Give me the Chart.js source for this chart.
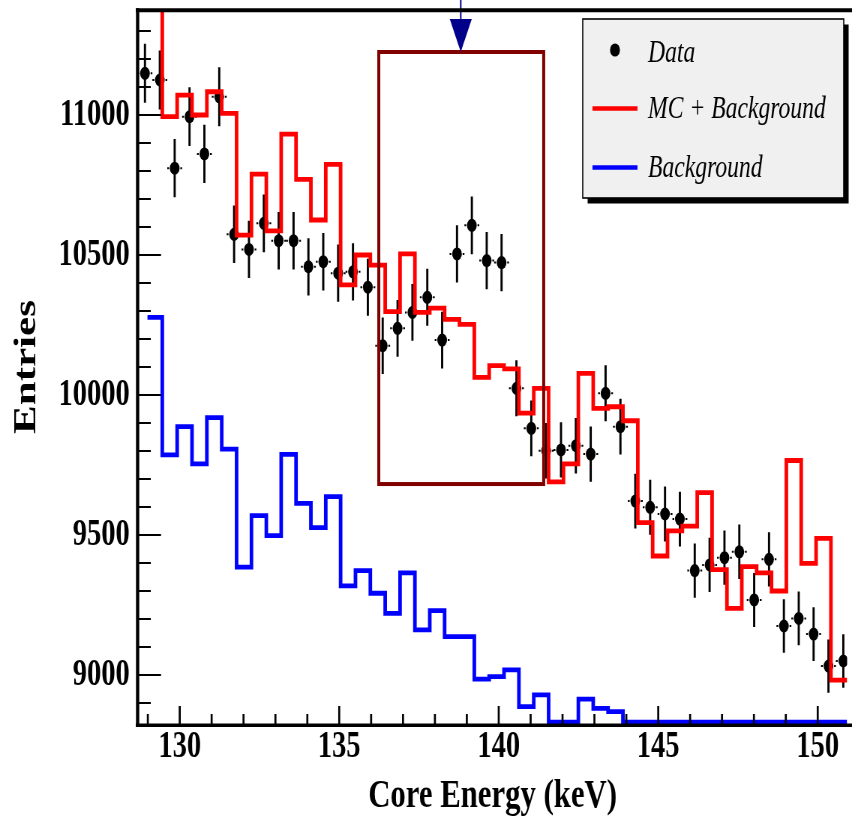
<!DOCTYPE html>
<html><head><meta charset="utf-8">
<script src="https://cdn.jsdelivr.net/npm/chart.js@4.4.1/dist/chart.umd.min.js"></script>
<style>
html,body{margin:0;padding:0;background:#fff;overflow:hidden;width:852px;height:818px}
</style></head>
<body><canvas id="c" width="1136" height="818" style="display:block;width:852px;height:818px"></canvas>
<script>
// ---- data ----
const binStart = 128.988;   // keV, lower edge of first histogram bin
const binWidth = 0.4658;    // keV
const dataStart = 128.91;   // keV, position of first data point

const dataCounts = [11149, 11125, 10810, 10994, 10861, 11065, 10574, 10520, 10613, 10551,
  10551, 10458, 10476, 10435, 10440, 10385, 10176, 10238, 10295, 10349,
  10196, 10504, 10606, 10480, 10473, 10024, 9881, 9801, 9804, 9819,
  9789, 10006, 9887, 9621, 9599, 9575, 9557, 9373, 9393, 9419,
  9440, 9268, 9413, 9175, 9202, 9146, 9032, 9050];

const mcPlusBackground = [11500, 10994, 11071, 11000, 11083, 11006, 10571, 10789, 10586, 10932,
  10770, 10625, 10824, 10393, 10500, 10464, 10298, 10504, 10295, 10310,
  10270, 10252, 10063, 10105, 10093, 9935, 10024, 9690, 9754, 10077,
  9952, 9958, 9908, 9544, 9425, 9515, 9532, 9651, 9376, 9238,
  9387, 9365, 9300, 9766, 9399, 9488, 8982];

const background = [10277, 9786, 9887, 9754, 9919, 9807, 9385, 9569, 9498, 9788,
  9613, 9526, 9637, 9318, 9373, 9292, 9220, 9365, 9161, 9230,
  9137, 9137, 8985, 8994, 9018, 8887, 8929, 8832, 8832, 8914,
  8881, 8869, 8832, 8832, 8832, 8832, 8832, 8832, 8832, 8832,
  8832, 8832, 8832, 8832, 8832, 8832, 8832];

const xTickValues = [130, 135, 140, 145, 150];
const yTickValues = [9000, 9500, 10000, 10500, 11000];
const xMinorStep = 1;
const yMinorStep = 100;
const xRange = [128.692, 150.922];
const yRange = [8825, 11375];

const windowEnergy = [136.24, 141.41];
const windowCounts = [9682, 11225];
const arrowEnergy = 138.81;
const arrowTopCounts = 11343;

const legendLabels = ['Data', 'MC + Background', 'Background'];
const xTitle = 'Core Energy (keV)';
const yTitle = 'Entries';

// ---- build ----
function histPoints(vals) {
  const pts = vals.map((v, j) => ({x: binStart + j * binWidth, y: v}));
  pts.push({x: Math.max(binStart + vals.length * binWidth, xRange[1]), y: vals[vals.length - 1]});
  return pts;
}
const dataPoints = dataCounts.map((v, k) => ({x: dataStart + k * binWidth, y: v}));

const SERIF = '"Liberation Serif", "Times New Roman", serif';

const errorBars = {
  id: 'errorBars',
  beforeDatasetsDraw(chart) {
    const {ctx, chartArea: a, scales: {x, y}} = chart;
    ctx.save();
    ctx.beginPath(); ctx.rect(a.left, a.top, a.right - a.left, a.bottom - a.top); ctx.clip();
    ctx.strokeStyle = '#000';
    dataCounts.forEach((v, k) => {
      const e = dataStart + k * binWidth;
      const px = x.getPixelForValue(e), py = y.getPixelForValue(v);
      const err = Math.sqrt(v);
      ctx.lineWidth = 2.9;
      ctx.beginPath();
      ctx.moveTo(px, y.getPixelForValue(v - err));
      ctx.lineTo(px, y.getPixelForValue(v + err));
      ctx.stroke();
      const gap = 7.5;
      ctx.lineWidth = 2;
      ctx.beginPath();
      ctx.moveTo(x.getPixelForValue(e - binWidth / 2), py); ctx.lineTo(px - gap, py);
      ctx.moveTo(px + gap, py); ctx.lineTo(x.getPixelForValue(e + binWidth / 2), py);
      ctx.stroke();
    });
    ctx.restore();
  }
};

const decorations = {
  id: 'decorations',
  afterDatasetsDraw(chart) {
    const {ctx, chartArea: a, scales: {x, y}} = chart;
    ctx.save();
    // signal window box
    ctx.strokeStyle = '#800000';
    ctx.lineWidth = 4;
    const bx1 = x.getPixelForValue(windowEnergy[0]), bx2 = x.getPixelForValue(windowEnergy[1]);
    const by1 = y.getPixelForValue(windowCounts[1]), by2 = y.getPixelForValue(windowCounts[0]);
    ctx.strokeRect(bx1, by1, bx2 - bx1, by2 - by1);
    // arrow
    const ax = x.getPixelForValue(arrowEnergy);
    const aTop = y.getPixelForValue(arrowTopCounts);
    ctx.strokeStyle = '#00008b'; ctx.fillStyle = '#00008b';
    ctx.lineWidth = 2;
    ctx.beginPath(); ctx.moveTo(ax, 0); ctx.lineTo(ax, aTop); ctx.stroke();
    ctx.beginPath(); ctx.moveTo(ax - 14.7, aTop); ctx.lineTo(ax + 14.7, aTop); ctx.lineTo(ax, by1); ctx.closePath(); ctx.fill();

    // frame
    ctx.strokeStyle = '#000';
    ctx.lineWidth = 4;
    ctx.beginPath(); ctx.moveTo(a.left - 3, a.top + 0.3); ctx.lineTo(chart.width, a.top + 0.3); ctx.stroke();
    ctx.lineWidth = 4.4;
    ctx.beginPath(); ctx.moveTo(a.left - 0.5, a.top - 1.7); ctx.lineTo(a.left - 0.5, a.bottom + 3); ctx.stroke();
    ctx.lineWidth = 3.5;
    ctx.beginPath(); ctx.moveTo(a.left - 3, a.bottom + 1.2); ctx.lineTo(chart.width, a.bottom + 1.2); ctx.stroke();
    // y ticks (inward)
    ctx.lineWidth = 2;
    for (let v = Math.ceil(yRange[0] / yMinorStep) * yMinorStep; v <= yRange[1]; v += yMinorStep) {
      const py = y.getPixelForValue(v);
      const len = (v % 500 === 0) ? 30.7 : 17;
      ctx.beginPath(); ctx.moveTo(a.left, py); ctx.lineTo(a.left + len, py); ctx.stroke();
    }
    // x ticks (inward)
    ctx.lineWidth = 2.7;
    for (let v = Math.ceil(xRange[0]); v <= xRange[1]; v += xMinorStep) {
      const px = x.getPixelForValue(v);
      const len = (v % 5 === 0) ? 18 : 10;
      ctx.beginPath(); ctx.moveTo(px, a.bottom); ctx.lineTo(px, a.bottom - len); ctx.stroke();
    }

    // legend
    const L = {x1: 777, y1: 19, x2: 1125, y2: 198};
    ctx.fillStyle = '#000';
    ctx.fillRect(L.x1 + 6.5, L.y1 + 5.5, L.x2 - L.x1, L.y2 - L.y1);
    ctx.fillStyle = '#f0f0f0';
    ctx.fillRect(L.x1, L.y1, L.x2 - L.x1, L.y2 - L.y1);
    ctx.lineWidth = 1.6; ctx.strokeStyle = '#000';
    ctx.strokeRect(L.x1, L.y1, L.x2 - L.x1, L.y2 - L.y1);
    ctx.fillStyle = '#000';
    ctx.beginPath(); ctx.arc(820, 50, 6.6, 0, Math.PI * 2); ctx.fill();
    ctx.lineWidth = 4.5;
    ctx.strokeStyle = '#ff0000';
    ctx.beginPath(); ctx.moveTo(790, 108.5); ctx.lineTo(850, 108.5); ctx.stroke();
    ctx.strokeStyle = '#0000ff';
    ctx.beginPath(); ctx.moveTo(790, 167.5); ctx.lineTo(850, 167.5); ctx.stroke();
    ctx.fillStyle = '#000';
    ctx.font = 'italic 31.5px ' + SERIF;
    ctx.textBaseline = 'alphabetic'; ctx.textAlign = 'left';
    ctx.fillText(legendLabels[0], 864, 61.7);
    ctx.fillText(legendLabels[1], 864, 118.3);
    ctx.fillText(legendLabels[2], 864, 176.7);
    ctx.restore();
  }
};

const canvas = document.getElementById('c');
new Chart(canvas, {
  type: 'scatter',
  data: {
    datasets: [
      {
        type: 'line', label: legendLabels[2], data: histPoints(background),
        borderColor: '#0000ff', borderWidth: 4.8, stepped: true, pointRadius: 0,
        fill: false, tension: 0, borderJoinStyle: 'miter', clip: 0
      },
      {
        type: 'line', label: legendLabels[1], data: histPoints(mcPlusBackground),
        borderColor: '#ff0000', borderWidth: 4.8, stepped: true, pointRadius: 0,
        fill: false, tension: 0, borderJoinStyle: 'miter', clip: 0
      },
      {
        type: 'scatter', label: legendLabels[0], data: dataPoints,
        backgroundColor: '#000', borderWidth: 0, pointRadius: 6.5, pointHoverRadius: 6.5
      }
    ]
  },
  options: {
    responsive: false,
    animation: false,
    devicePixelRatio: 1,
    events: [],
    layout: {padding: {top: 10, left: 0, right: 0, bottom: 0}},
    plugins: {legend: {display: false}, tooltip: {enabled: false}},
    scales: {
      x: {
        type: 'linear', min: xRange[0], max: xRange[1],
        grid: {display: false, drawTicks: false}, border: {display: false},
        afterBuildTicks: s => { s.ticks = xTickValues.map(v => ({value: v})); },
        afterFit: s => { s.height = 94; s.paddingLeft = 0; s.paddingRight = 0; },
        ticks: {
          autoSkip: false, maxRotation: 0, padding: 0, color: '#000',
          font: {family: SERIF, size: 38, weight: 'bold'},
          callback: v => String(v)
        },
        title: {
          display: true, text: xTitle, color: '#000',
          font: {family: SERIF, size: 41, weight: 'bold'},
          padding: {top: 0, bottom: -3}
        }
      },
      y: {
        type: 'linear', min: yRange[0], max: yRange[1],
        grid: {display: false, drawTicks: false}, border: {display: false},
        afterBuildTicks: s => { s.ticks = yTickValues.map(v => ({value: v})); },
        afterFit: s => { s.width = 184; s.paddingTop = 0; s.paddingBottom = 0; },
        ticks: {
          autoSkip: false, padding: 11, color: '#000',
          font: {family: SERIF, size: 38, weight: 'bold'},
          callback: v => String(v)
        },
        title: {
          display: true, text: yTitle, color: '#000',
          font: {family: SERIF, size: 43, weight: 'bold'},
          padding: {top: 10, bottom: 0}
        }
      }
    }
  },
  plugins: [errorBars, decorations]
});
canvas.style.width = '852px';
canvas.style.height = '818px';
</script></body></html>
